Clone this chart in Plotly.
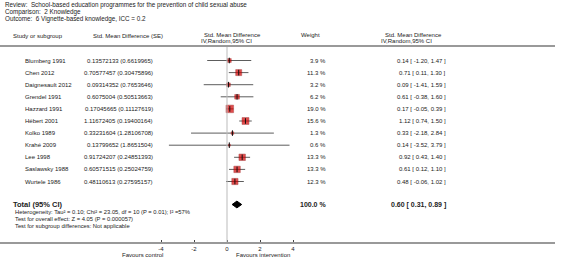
import plotly.graph_objects as go

# ---------------- data ----------------
studies = ["Blumberg 1991", "Chen 2012", "Daignesault 2012", "Grendel 1991", "Hazzard 1991",
           "Hébert 2001", "Kolko 1989", "Krahé 2009", "Lee 1998", "Saslawsky 1988", "Wurtele 1986"]
se_text = ["0.13572133 (0.6619965)", "0.70577457 (0.30475896)", "0.09314352 (0.7653646)",
           "0.6075004 (0.50513663)", "0.17045665 (0.11127619)", "1.11672405 (0.19400164)",
           "0.33231604 (1.28106708)", "0.13799652 (1.8651504)", "0.91724207 (0.24851393)",
           "0.60571515 (0.25024759)", "0.48110613 (0.27595157)"]
weights = [3.9, 11.3, 3.2, 6.2, 19.0, 15.6, 1.3, 0.6, 13.3, 13.3, 12.3]
est = [0.14, 0.71, 0.09, 0.61, 0.17, 1.12, 0.33, 0.14, 0.92, 0.61, 0.48]
lo = [-1.20, 0.11, -1.41, -0.38, -0.05, 0.74, -2.18, -3.52, 0.43, 0.12, -0.06]
hi = [1.47, 1.30, 1.59, 1.60, 0.39, 1.50, 2.84, 3.79, 1.40, 1.10, 1.02]
total_est, total_lo, total_hi, total_weight = 0.60, 0.31, 0.89, 100.0

tick_vals = [-4, -2, 0, 2, 4]
tick_text = ["-4", "-2", "0", "2", "4"]

title_lines = ["Review:  School-based education programmes for the prevention of child sexual abuse",
               "Comparison:  2 Knowledge",
               "Outcome:  6 Vignette-based knowledge, ICC = 0.2"]
footer_lines = ["Heterogeneity: Tau² = 0.10; Chi² = 23.05, df = 10 (P = 0.01); I² =57%",
                "Test for overall effect: Z = 4.05 (P = 0.000057)",
                "Test for subgroup differences: Not applicable"]

# ---------------- layout geometry ----------------
W, H = 566, 265
X0PX, PXU = 227.0, 16.5          # pixel of zero, pixels per unit
ROW0, ROWH = 60.5, 12.1          # first row pixel, row spacing
AXIS_PX, LINE_RIGHT = 242.0, 555.0
FONT = "Liberation Sans, Arial, sans-serif"
TC = "#222222"


def px2y(p):
    return (p - ROW0) / ROWH


def px2paper_x(p):
    return p / W


def px2paper_y(p):
    return 1 - p / H


n = len(studies)
rows = list(range(n))
total_row = px2y(204.5)

fig = go.Figure()

# study squares with CI lines
fig.add_trace(go.Scatter(
    x=est, y=rows, mode="markers",
    marker=dict(symbol="square", size=[1.55 * (w ** 0.5) + 0.8 for w in weights],
                color="#d40000", line=dict(width=0.5, color="#8a0000")),
    error_x=dict(type="data", symmetric=False,
                 array=[h - e for h, e in zip(hi, est)],
                 arrayminus=[e - l for e, l in zip(est, lo)],
                 color="#333333", thickness=0.8, width=0),
    hoverinfo="skip", showlegend=False))
# point tick marks
fig.add_trace(go.Scatter(
    x=est, y=rows, mode="markers",
    marker=dict(symbol="line-ns", size=4, line=dict(width=1, color="#111111")),
    hoverinfo="skip", showlegend=False))
# total diamond
dh = 0.28
fig.add_trace(go.Scatter(
    x=[total_lo, total_est, total_hi, total_est, total_lo],
    y=[total_row, total_row - dh, total_row, total_row + dh, total_row],
    mode="lines", fill="toself", fillcolor="#000000",
    line=dict(color="#000000", width=1), hoverinfo="skip", showlegend=False))

xr = [(0 - X0PX) / PXU, (LINE_RIGHT - X0PX) / PXU]
fig.update_layout(
    width=W, height=H, margin=dict(l=0, r=0, t=0, b=0),
    paper_bgcolor="white", plot_bgcolor="white",
    font=dict(family=FONT, size=6, color=TC),
    xaxis=dict(domain=[0, LINE_RIGHT / W], range=xr, showgrid=False, zeroline=False,
               showline=True, linecolor="#999999", linewidth=2,
               tickvals=tick_vals, ticktext=tick_text, ticks="inside", ticklen=2,
               tickcolor="#444444", tickfont=dict(size=6, color=TC, family=FONT)),
    yaxis=dict(domain=[(H - AXIS_PX) / H, 1], range=[px2y(AXIS_PX), px2y(0)],
               showgrid=False, zeroline=False, showline=False, showticklabels=False, ticks=""),
)

# zero line and header line
fig.add_shape(type="line", xref="x", yref="y", x0=0, x1=0, y0=px2y(47), y1=px2y(AXIS_PX),
              line=dict(color="#bbbbbb", width=1))
fig.add_shape(type="line", xref="paper", yref="y", x0=0, x1=LINE_RIGHT / W,
              y0=px2y(46), y1=px2y(46), line=dict(color="#999999", width=2))


def ann(text, xpx, ypx=None, yrow=None, anchor="left", size=6, bold=False):
    t = f"<b>{text}</b>" if bold else text
    if yrow is not None:
        yref, yy = "y", yrow
    else:
        yref, yy = "paper", px2paper_y(ypx)
    fig.add_annotation(text=t, x=px2paper_x(xpx), xref="paper", y=yy, yref=yref,
                       xanchor=anchor, yanchor="middle", showarrow=False, borderpad=0,
                       font=dict(size=size, family=FONT, color=TC))


# titles
for i, line in enumerate(title_lines):
    ann(line, 4, ypx=5 + 7.2 * i, size=6.3)

# column headers
ann("Study or subgroup", 12, ypx=36)
ann("Std. Mean Difference (SE)", 92, ypx=36)
ann("Std. Mean Difference", 203, ypx=35.5)
ann("IV,Random,95% CI", 200, ypx=41.5)
ann("Weight", 300, ypx=35.5)
ann("Std. Mean Difference", 384, ypx=35.5)
ann("IV,Random,95% CI", 380, ypx=41.5)

# rows
for i in rows:
    ann(studies[i], 24, yrow=i)
    ann(se_text[i], 154, yrow=i, anchor="right")
    ann(f"{weights[i]:.1f} %", 327, yrow=i, anchor="right")
    ann(f"{est[i]:.2f} [ {lo[i]:.2f}, {hi[i]:.2f} ]", 447, yrow=i, anchor="right")

# total
ann("Total (95% CI)", 12, yrow=total_row, size=7.5, bold=True)
ann(f"{total_weight:.1f} %", 327, yrow=total_row, anchor="right", size=7, bold=True)
ann(f"{total_est:.2f} [ {total_lo:.2f}, {total_hi:.2f} ]", 447, yrow=total_row,
    anchor="right", size=7, bold=True)
for i, line in enumerate(footer_lines):
    ann(line, 14, ypx=212 + 7 * i, size=5.8)

# favours
ann("Favours control", 164, ypx=255, anchor="right")
ann("Favours intervention", 235, ypx=255, anchor="left")

fig.write_html("out.html", config={"displayModeBar": False},
               post_script="document.body.style.margin='0px';document.body.style.overflow='hidden';")
